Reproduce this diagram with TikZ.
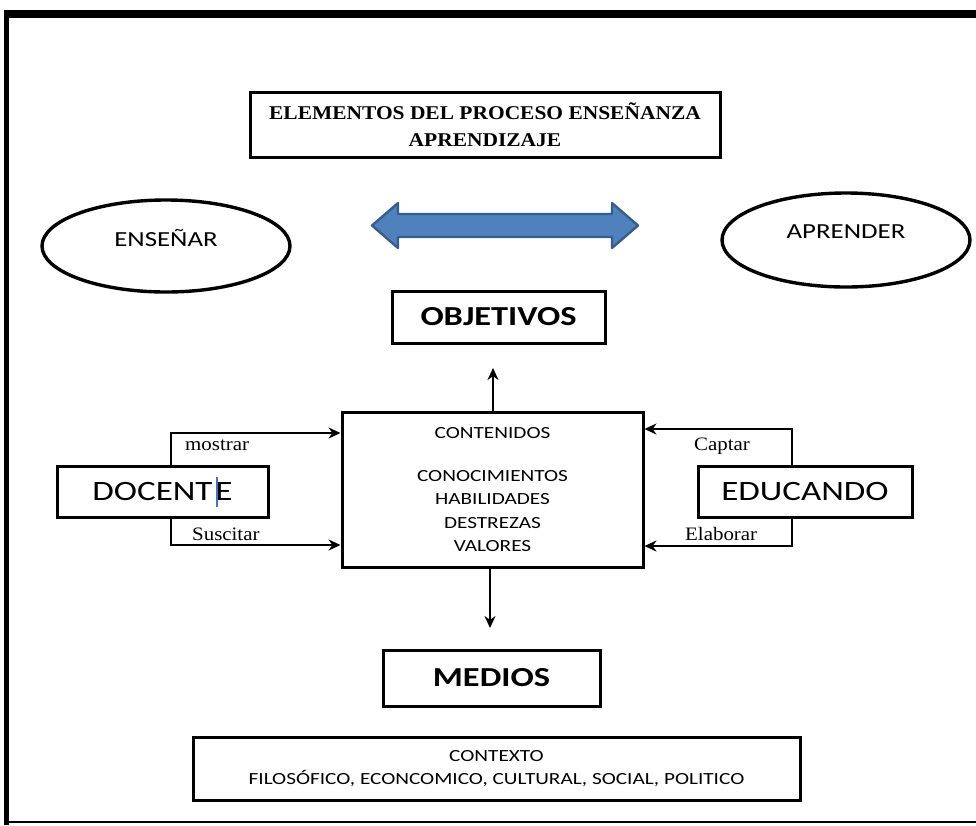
\documentclass[tikz,border=0pt]{standalone}
\usepackage{fontspec}
\setmainfont{Liberation Serif}
\newfontfamily\calf[FakeStretch=1.25]{Carlito}
\newfontfamily\serf[FakeStretch=1.1]{Liberation Serif}
\usetikzlibrary{arrows.meta,shapes.geometric}
\definecolor{arrfill}{HTML}{4F81BD}
\definecolor{arrline}{HTML}{385D8A}
\definecolor{cursor}{HTML}{4472C4}
\tikzset{
  box/.style={draw, line width=3pt, inner sep=0pt, align=center},
  oval/.style={draw, ellipse, line width=3.4pt, inner sep=0pt},
  conn/.style={line width=2.6pt, -{Stealth[length=12pt,width=11pt]}},
  lbl/.style={font=\serf\fontsize{19}{22}\selectfont, anchor=base west, inner sep=0pt},
}
\begin{document}
\begin{tikzpicture}[x=1pt,y=-1pt]
\useasboundingbox (0,0) rectangle (976,825);
% outer frame
\fill (4,10) rectangle (976,18);
\fill (4,10) rectangle (9,825);
\draw[line width=2pt] (4,822) -- (976,822);

% title
\node[box, minimum width=470, minimum height=65,
  font=\serf\bfseries\fontsize{19.5}{27}\selectfont] (title) at (485,124.5)
  {ELEMENTOS DEL PROCESO ENSEÑANZA\\APRENDIZAJE};

% ellipses
\node[oval, minimum width=248, minimum height=92] (ens) at (166,246) {};
\node[font=\calf\fontsize{21.5}{24}\selectfont] (enst) at (166,238) {ENSEÑAR};
\node[oval, minimum width=248, minimum height=94] (apr) at (846,240) {};
\node[font=\calf\fontsize{21.5}{24}\selectfont] (aprt) at (846,232) {APRENDER};

% double arrow
\draw[fill=arrfill, draw=arrline, line width=2.4pt, line join=round]
  (372,225.5) -- (398,203) -- (398,214) -- (612,214) -- (612,203) -- (638,225.5)
  -- (612,248) -- (612,237) -- (398,237) -- (398,248) -- cycle;

% boxes
\node[box, minimum width=213, minimum height=52,
  font=\calf\bfseries\fontsize{27.5}{30}\selectfont] (obj) at (498.5,317) {OBJETIVOS};
\node[box, minimum width=301, minimum height=155,
  font=\calf\fontsize{17}{23.5}\selectfont] (cont) at (492.5,489.5)
  {CONTENIDOS\\[19.5pt]CONOCIMIENTOS\\HABILIDADES\\DESTREZAS\\VALORES};
\node[box, minimum width=217, minimum height=56,
  font=\calf\bfseries\fontsize{27.5}{30}\selectfont] (med) at (491.5,678) {MEDIOS};
\node[box, minimum width=211, minimum height=51,
  font=\calf\fontsize{28}{30}\selectfont] (doc) at (162.5,491.5) {DOCENT\kern3pt E};
\node[box, minimum width=214, minimum height=51,
  font=\calf\fontsize{28}{30}\selectfont] (edu) at (805,491.5) {EDUCANDO};
\node[box, minimum width=607, minimum height=63,
  font=\calf\fontsize{17}{23}\selectfont] (ctx) at (496.5,768.5)
  {CONTEXTO\\FILOSÓFICO, ECONCOMICO, CULTURAL, SOCIAL, POLITICO};

% cursor mark in DOCENTE
\draw[cursor, line width=2.2pt] (217,477) -- (217,507);

% vertical arrows
\coordinate (objtip) at (493,368);
\coordinate (medtip) at (490,628);
\draw[conn] (cont.north -| objtip) -- (objtip);
\draw[conn] (cont.south -| medtip) -- (medtip);

% docente arrows
\coordinate (m1) at (171,433);
\coordinate (s1) at (171,545);
\draw[conn] (doc.north -| m1) -- (m1) -- (m1 -| cont.west);
\draw[conn] (doc.south -| s1) -- (s1) -- (s1 -| cont.west);
\node[lbl] (lmos) at (185,450) {mostrar};
\node[lbl] (lsus) at (192,540) {Suscitar};

% educando arrows
\coordinate (c1) at (792,429);
\coordinate (e1) at (792,546);
\draw[conn] (edu.north -| c1) -- (c1) -- (c1 -| cont.east);
\draw[conn] (edu.south -| e1) -- (e1) -- (e1 -| cont.east);
\node[lbl] (lcap) at (694,450) {Captar};
\node[lbl] (lela) at (685,540) {Elaborar};
\end{tikzpicture}
\end{document}
